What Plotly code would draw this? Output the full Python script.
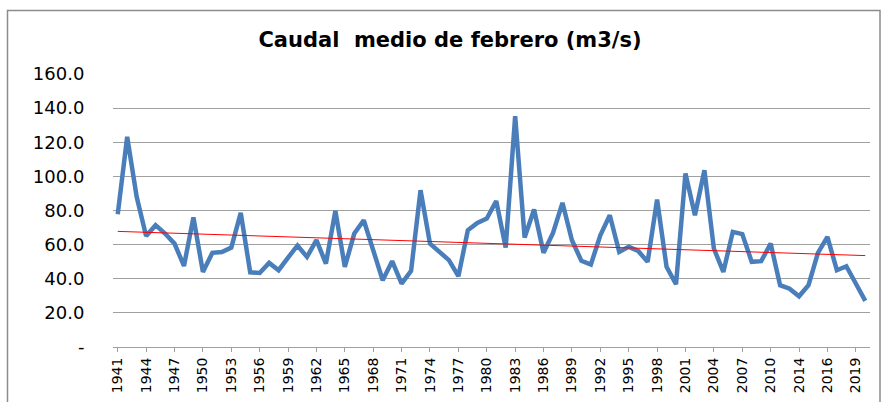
import numpy as np
import plotly.graph_objects as go

# Caudal medio de febrero (m3/s), one value per year (80 values)
caudal = [
    77.8, 123.2, 88.0, 65.0, 71.4, 66.5, 60.6, 47.5, 76.0, 44.0,
    55.2, 55.7, 58.3, 78.6, 43.8, 43.4, 49.3, 45.0, 52.4, 59.5,
    52.8, 62.6, 48.9, 79.8, 47.0, 66.5, 74.3, 55.7, 39.1, 50.3,
    37.2, 44.6, 91.9, 60.6, 55.7, 50.9, 41.5, 68.4, 72.7, 75.3,
    85.6, 58.3, 135.3, 64.1, 80.6, 55.2, 66.9, 84.5, 62.6, 50.5,
    48.3, 65.5, 77.2, 55.7, 58.7, 56.3, 49.9, 86.4, 47.0, 36.8,
    101.7, 77.2, 103.6, 57.7, 44.0, 67.5, 66.2, 49.9, 50.3, 60.6,
    36.2, 34.2, 29.7, 36.2, 55.2, 64.5, 45.0, 47.3, 37.2, 27.0,
]

# x tick labels (every third year position)
tick_labels = [
    "1941", "1944", "1947", "1950", "1953", "1956", "1959", "1962", "1965",
    "1968", "1971", "1974", "1977", "1980", "1983", "1986", "1989", "1992",
    "1995", "1998", "2001", "2004", "2007", "2010", "2014", "2016", "2019",
]

y_ticks = [0, 20, 40, 60, 80, 100, 120, 140, 160]
y_tick_text = ["-"] + [f"{v:.1f}" for v in y_ticks[1:]]

idx = np.arange(len(caudal))
slope, intercept = np.polyfit(idx, caudal, 1)
trend = slope * idx + intercept

fig = go.Figure()
fig.add_trace(go.Scatter(
    x=idx, y=caudal, mode="lines",
    line=dict(color="#4A7EBB", width=4.5),
    hoverinfo="y", showlegend=False,
))
fig.add_trace(go.Scatter(
    x=idx, y=trend, mode="lines",
    line=dict(color="#FF0000", width=1),
    hoverinfo="skip", showlegend=False,
))

W, H = 885, 402
L, R, T, B = 113, 15, 74, 55
pw, ph = W - L - R, H - T - B

def px_x(p):
    return (p - L) / pw

def px_y(p):
    return (H - B - p) / ph

fig.update_layout(
    width=W, height=H,
    margin=dict(l=L, r=R, t=T, b=B, pad=0, autoexpand=False),
    paper_bgcolor="white", plot_bgcolor="white",
    title=dict(
        text="<b>Caudal  medio de febrero (m3/s)</b>",
        x=450 / W, xanchor="center", xref="container",
        y=1 - 40 / H, yanchor="middle", yref="container",
        font=dict(family="DejaVu Sans", size=21, color="#000000"),
    ),
    xaxis=dict(
        range=[-0.5, len(caudal) - 0.5],
        tickmode="array",
        tickvals=idx[::3][:len(tick_labels)],
        ticktext=tick_labels,
        tickangle=-90,
        tickfont=dict(family="DejaVu Sans", size=14, color="#000000"),
        showgrid=False, zeroline=False,
        showline=True, linecolor="#A0A0A0", linewidth=1,
        ticks="outside", ticklen=4, tickcolor="#A0A0A0",
        automargin=False,
    ),
    yaxis=dict(
        range=[0, 160],
        tickmode="array", tickvals=y_ticks, ticktext=y_tick_text,
        tickfont=dict(family="DejaVu Sans", size=18, color="#000000"),
        showgrid=True, gridcolor="#A0A0A0", gridwidth=1,
        zeroline=False, showline=False,
        ticks="outside", ticklen=24, tickcolor="rgba(0,0,0,0)",
        automargin=False,
    ),
    shapes=[dict(
        type="rect", xref="paper", yref="paper",
        x0=px_x(7.5), x1=px_x(880), y0=px_y(420), y1=px_y(10.5),
        line=dict(color="#8C8C8C", width=1.5), fillcolor="rgba(0,0,0,0)",
        layer="below",
    )],
)

fig.write_html(
    "out.html",
    config={"displayModeBar": False},
    post_script="document.body.style.margin='0';document.body.style.overflow='hidden';",
)
